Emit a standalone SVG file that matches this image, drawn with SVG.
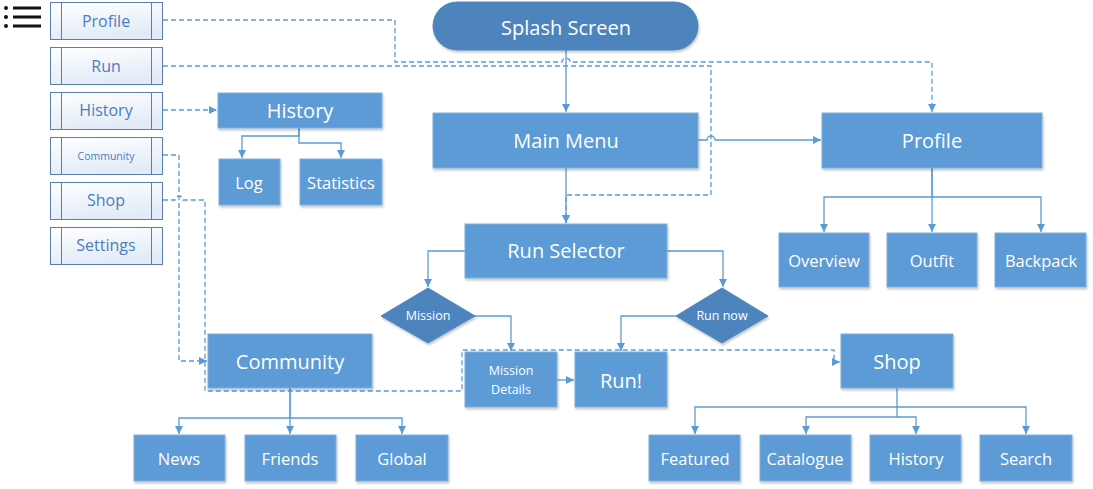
<svg xmlns="http://www.w3.org/2000/svg" width="1093" height="489" viewBox="0 0 1093 489">
<defs>
<marker id="ah" markerWidth="10" markerHeight="10" refX="8" refY="4" orient="auto" markerUnits="userSpaceOnUse"><path d="M0,0 L8,4 L0,8 Z" fill="#5B9BD5"/></marker>
<linearGradient id="mg" x1="0" y1="0" x2="0.3" y2="1"><stop offset="0" stop-color="#FFFFFF"/><stop offset="1" stop-color="#E2EBF7"/></linearGradient>
<filter id="sh" x="-10%" y="-10%" width="130%" height="140%"><feDropShadow dx="1" dy="2" stdDeviation="1.2" flood-color="#000" flood-opacity="0.22"/></filter>
</defs>
<style>
.box{fill:#5B9BD5;stroke:#7FB0DE;stroke-width:1;filter:url(#sh)}
.dk{fill:#4E84BE;stroke:#4E84BE;filter:url(#sh)}
.t{font-family:"Open Sans","Noto Sans",sans-serif;fill:#FFFFFF;text-anchor:middle;dominant-baseline:central}
.big{font-size:20px}
.mid{font-size:16.5px}
.sm{font-size:12.5px}
.menu rect{fill:url(#mg);stroke:#5A7FAE;stroke-width:1}
.menu line{stroke:#5A7FAE;stroke-width:1}
.mt{font-family:"Open Sans","Noto Sans",sans-serif;fill:#4A7DBF;text-anchor:middle;dominant-baseline:central;font-size:16px}
.c{fill:none;stroke:#5B9BD5;stroke-width:1.3}
.d{fill:none;stroke:#5B9BD5;stroke-width:1.3;stroke-dasharray:5,3}
</style>
<g id="hamburger">
<circle cx="6" cy="8" r="2" fill="#111"/><circle cx="6" cy="17" r="2" fill="#111"/><circle cx="6" cy="26" r="2" fill="#111"/>
<rect x="13" y="6.5" width="28" height="3" fill="#111"/><rect x="13" y="15.5" width="28" height="3" fill="#111"/><rect x="13" y="24.5" width="28" height="3" fill="#111"/>
</g>
<g id="menu-profile" class="menu"><rect x="50.5" y="2.5" width="112" height="37"/><line x1="61.5" y1="2.5" x2="61.5" y2="39.5"/><line x1="151.5" y1="2.5" x2="151.5" y2="39.5"/><text class="mt" x="106" y="21">Profile</text></g>
<g id="menu-run" class="menu"><rect x="50.5" y="47.5" width="112" height="37"/><line x1="61.5" y1="47.5" x2="61.5" y2="84.5"/><line x1="151.5" y1="47.5" x2="151.5" y2="84.5"/><text class="mt" x="106" y="66">Run</text></g>
<g id="menu-history" class="menu"><rect x="50.5" y="92.5" width="112" height="37"/><line x1="61.5" y1="92.5" x2="61.5" y2="129.5"/><line x1="151.5" y1="92.5" x2="151.5" y2="129.5"/><text class="mt" x="106" y="110">History</text></g>
<g id="menu-community" class="menu"><rect x="50.5" y="137.5" width="112" height="37"/><line x1="61.5" y1="137.5" x2="61.5" y2="174.5"/><line x1="151.5" y1="137.5" x2="151.5" y2="174.5"/><text class="mt" x="106" y="156" style="font-size:10.5px">Community</text></g>
<g id="menu-shop" class="menu"><rect x="50.5" y="182.5" width="112" height="37"/><line x1="61.5" y1="182.5" x2="61.5" y2="219.5"/><line x1="151.5" y1="182.5" x2="151.5" y2="219.5"/><text class="mt" x="106" y="200">Shop</text></g>
<g id="menu-settings" class="menu"><rect x="50.5" y="227.5" width="112" height="37"/><line x1="61.5" y1="227.5" x2="61.5" y2="264.5"/><line x1="151.5" y1="227.5" x2="151.5" y2="264.5"/><text class="mt" x="106" y="245">Settings</text></g>

<g id="connectors">
<path class="c" d="M566,50 V112" marker-end="url(#ah)"/>
<path class="c" d="M698,140 H707 A4,4 0 0 1 715,140 H821" marker-end="url(#ah)"/>
<path class="c" d="M566,168 V223" marker-end="url(#ah)"/>
<path class="c" d="M932,168 V197 H824 V232" marker-end="url(#ah)"/>
<path class="c" d="M932,168 V232" marker-end="url(#ah)"/>
<path class="c" d="M932,197 H1041 V232" marker-end="url(#ah)"/>
<path class="c" d="M465,251 H428 V287" marker-end="url(#ah)"/>
<path class="c" d="M667,251 H723 V287" marker-end="url(#ah)"/>
<path class="c" d="M474,316 H511 V351" marker-end="url(#ah)"/>
<path class="c" d="M676,316 H621 V351" marker-end="url(#ah)"/>
<path class="c" d="M557,380 H574" marker-end="url(#ah)"/>
<path class="c" d="M299,128 V136 H242 V158" marker-end="url(#ah)"/>
<path class="c" d="M299,128 V143 H341 V158" marker-end="url(#ah)"/>
<path class="c" d="M290,388 V418 H179 V434" marker-end="url(#ah)"/>
<path class="c" d="M290,388 V434" marker-end="url(#ah)"/>
<path class="c" d="M290,418 H402 V434" marker-end="url(#ah)"/>
<path class="c" d="M897,388 V407 H695 V434" marker-end="url(#ah)"/>
<path class="c" d="M897,407 H1026 V434" marker-end="url(#ah)"/>
<path class="c" d="M897,407 V417 H806 V434" marker-end="url(#ah)"/>
<path class="c" d="M897,417 H916 V434" marker-end="url(#ah)"/>
<path class="d" d="M163,20 H395 V62 H562 A4,4 0 0 1 570,62 H932 V112" marker-end="url(#ah)"/>
<path class="d" d="M163,66 H711 V195 H566 V223" marker-end="url(#ah)"/>
<path class="d" d="M163,110 H217" marker-end="url(#ah)"/>
<path class="d" d="M163,155 H179 V361 H207" marker-end="url(#ah)"/>
<path class="d" d="M163,200 H175 A4,4 0 0 1 183,200 H205 V391 H462 V350 H834 V362 H840" marker-end="url(#ah)"/>
</g>

<g id="splash"><rect class="dk" x="433" y="2" width="265" height="48" rx="24"/><text class="t big" x="566" y="27">Splash Screen</text></g>
<g id="main-menu"><rect class="box" x="433" y="113" width="265" height="55"/><text class="t big" x="566" y="140">Main Menu</text></g>
<g id="profile"><rect class="box" x="822" y="113" width="220" height="55"/><text class="t big" x="932" y="140">Profile</text></g>
<g id="overview"><rect class="box" x="779" y="233" width="90" height="54"/><text class="t mid" x="824" y="260">Overview</text></g>
<g id="outfit"><rect class="box" x="887" y="233" width="90" height="54"/><text class="t mid" x="932" y="260">Outfit</text></g>
<g id="backpack"><rect class="box" x="995" y="233" width="91" height="54"/><text class="t mid" x="1041" y="260">Backpack</text></g>
<g id="run-selector"><rect class="box" x="465" y="224" width="202" height="54"/><text class="t big" x="566" y="250">Run Selector</text></g>
<g id="mission"><polygon class="dk" points="428,288 475,316 428,343 381,316"/><text class="t sm" x="428" y="315">Mission</text></g>
<g id="run-now"><polygon class="dk" points="722,288 768,316 722,343 676,316"/><text class="t sm" x="722" y="315">Run now</text></g>
<g id="mission-details"><rect class="box" x="465" y="352" width="92" height="55"/><text class="t sm" x="511" y="370">Mission</text><text class="t sm" x="511" y="389">Details</text></g>
<g id="run"><rect class="box" x="575" y="352" width="92" height="55"/><text class="t big" x="621" y="380">Run!</text></g>
<g id="history"><rect class="box" x="218" y="93" width="164" height="35"/><text class="t big" x="300" y="110">History</text></g>
<g id="log"><rect class="box" x="219" y="159" width="61" height="46"/><text class="t mid" x="249" y="182">Log</text></g>
<g id="statistics"><rect class="box" x="300" y="159" width="82" height="46"/><text class="t mid" x="341" y="182">Statistics</text></g>
<g id="community"><rect class="box" x="208" y="334" width="164" height="54"/><text class="t big" x="290" y="361">Community</text></g>
<g id="news"><rect class="box" x="134" y="435" width="91" height="46"/><text class="t mid" x="179" y="458">News</text></g>
<g id="friends"><rect class="box" x="245" y="435" width="91" height="46"/><text class="t mid" x="290" y="458">Friends</text></g>
<g id="global"><rect class="box" x="356" y="435" width="92" height="46"/><text class="t mid" x="402" y="458">Global</text></g>
<g id="shop"><rect class="box" x="841" y="334" width="112" height="54"/><text class="t big" x="897" y="361">Shop</text></g>
<g id="featured"><rect class="box" x="649" y="435" width="91" height="46"/><text class="t mid" x="695" y="458">Featured</text></g>
<g id="catalogue"><rect class="box" x="760" y="435" width="91" height="46"/><text class="t mid" x="805" y="458">Catalogue</text></g>
<g id="shop-history"><rect class="box" x="870" y="435" width="91" height="46"/><text class="t mid" x="916" y="458">History</text></g>
<g id="search"><rect class="box" x="980" y="435" width="92" height="46"/><text class="t mid" x="1026" y="458">Search</text></g>
</svg>
